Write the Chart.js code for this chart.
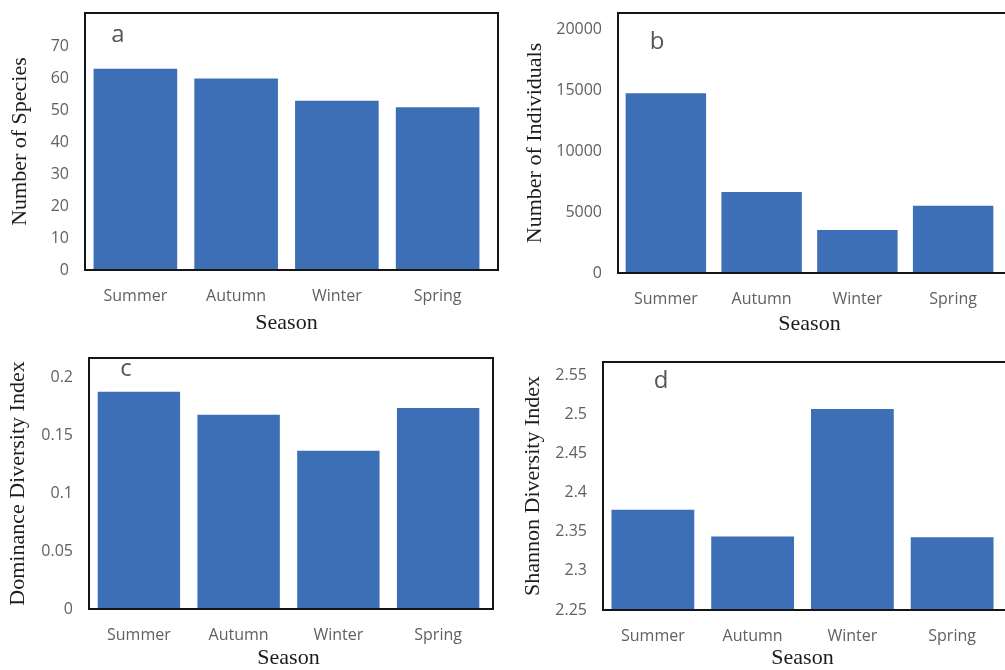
<!DOCTYPE html>
<html>
<head>
<meta charset="utf-8">
<script src="https://cdn.jsdelivr.net/npm/chart.js@4.4.1/dist/chart.umd.min.js"></script>
<style>
  body { margin: 0; background: #fff; }
  canvas { position: absolute; }
</style>
</head>
<body>
<canvas id="chartA" width="500" height="335" style="left:0;top:0"></canvas>
<canvas id="chartB" width="505" height="335" style="left:500px;top:0"></canvas>
<canvas id="chartC" width="500" height="335" style="left:0;top:335px"></canvas>
<canvas id="chartD" width="505" height="335" style="left:500px;top:335px"></canvas>
<script>
const seasons = ["Summer", "Autumn", "Winter", "Spring"];

const speciesCount = [63, 60, 53, 51];
const individuals = [14750, 6650, 3530, 5530];
const dominance = [0.188, 0.168, 0.137, 0.174];
const shannon = [2.378, 2.344, 2.507, 2.343];

const speciesTicks = [0, 10, 20, 30, 40, 50, 60, 70];
const individualTicks = [0, 5000, 10000, 15000, 20000];
const dominanceTicks = [0, 0.05, 0.1, 0.15, 0.2];
const shannonTicks = [2.25, 2.3, 2.35, 2.4, 2.45, 2.5, 2.55];

const barBlue = "#3c6fb6";

// box around the plot + the small panel letter
const framePlugin = {
    id: "frame",
    afterDraw(chart, args, opts) {
        const ctx = chart.ctx;
        const a = chart.chartArea;
        ctx.save();
        ctx.strokeStyle = "#151515";
        ctx.lineWidth = 2;
        ctx.strokeRect(a.left, a.top, a.right - a.left + opts.extraRight, a.bottom - a.top);
        ctx.fillStyle = "#555";
        ctx.font = "24px 'Open Sans'";
        ctx.textAlign = "center";
        ctx.textBaseline = "middle";
        ctx.fillText(opts.letter, a.left + opts.letterX, a.top + opts.letterY);
        ctx.restore();
    }
};

function makeChart(id, p) {
    const ctx = document.getElementById(id).getContext("2d");
    return new Chart(ctx, {
        type: "bar",
        data: {
            labels: seasons,
            datasets: [{
                data: p.values,
                backgroundColor: barBlue,
                barPercentage: 1,
                categoryPercentage: p.barPct
            }]
        },
        plugins: [framePlugin],
        options: {
            responsive: false,
            animation: false,
            devicePixelRatio: 1,
            layout: { padding: { top: p.padTop, right: p.padRight, left: 0, bottom: 0 } },
            plugins: {
                legend: { display: false },
                tooltip: { enabled: false },
                frame: { letter: p.letter, letterX: p.letterX, letterY: p.letterY, extraRight: p.extraRight }
            },
            scales: {
                x: {
                    grid: { display: false, drawTicks: false },
                    border: { display: false },
                    ticks: {
                        color: "#616161",
                        font: { family: "'Open Sans'", size: 16 },
                        padding: 17
                    },
                    title: {
                        display: true,
                        text: "Season",
                        color: "#1c1c1c",
                        font: { family: "'Liberation Serif'", size: 22, lineHeight: 1 },
                        padding: { top: 0, bottom: p.xTitlePad }
                    },
                    afterFit(scale) {
                        scale.height = p.xHeight;
                        scale.paddingLeft = 0;
                        scale.paddingRight = 0;
                    }
                },
                y: {
                    min: p.min,
                    max: p.max,
                    grid: { display: false, drawTicks: false },
                    border: { display: false },
                    afterBuildTicks(scale) {
                        scale.ticks = p.ticks.map(v => ({ value: v }));
                    },
                    ticks: {
                        color: "#616161",
                        font: { family: "'Open Sans'", size: 16 },
                        padding: 16,
                        callback: v => String(v)
                    },
                    title: {
                        display: true,
                        text: p.yTitle,
                        color: "#1c1c1c",
                        font: { family: "'Liberation Serif'", size: 22, lineHeight: 1 },
                        padding: { top: p.yTitlePad, bottom: 0 }
                    },
                    afterFit(scale) {
                        scale.width = p.yWidth;
                        scale.paddingTop = 0;
                        scale.paddingBottom = 0;
                    }
                }
            }
        }
    });
}

makeChart("chartA", {
    values: speciesCount, ticks: speciesTicks, min: 0, max: 80.5,
    yTitle: "Number of Species", yWidth: 85, xHeight: 65, padTop: 13, padRight: 12,
    yTitlePad: 9, xTitlePad: 1, barPct: 0.83, letter: "a", letterX: 33, letterY: 22, extraRight: 10
});

makeChart("chartB", {
    values: individuals, ticks: individualTicks, min: 0, max: 21350,
    yTitle: "Number of Individuals", yWidth: 118, xHeight: 62, padTop: 13, padRight: 4,
    yTitlePad: 24, xTitlePad: 0, barPct: 0.84, letter: "b", letterX: 39, letterY: 29, extraRight: 20
});

makeChart("chartC", {
    values: dominance, ticks: dominanceTicks, min: 0, max: 0.2172,
    yTitle: "Dominance Diversity Index", yWidth: 89, xHeight: 61, padTop: 23, padRight: 12,
    yTitlePad: 7, xTitlePad: 1, barPct: 0.826, letter: "c", letterX: 37, letterY: 11, extraRight: 5
});

makeChart("chartD", {
    values: shannon, ticks: shannonTicks, min: 2.25, max: 2.567,
    yTitle: "Shannon Diversity Index", yWidth: 103, xHeight: 60, padTop: 27, padRight: 3,
    yTitlePad: 22, xTitlePad: 1, barPct: 0.83, letter: "d", letterX: 58, letterY: 19, extraRight: 20
});
</script>
</body>
</html>
